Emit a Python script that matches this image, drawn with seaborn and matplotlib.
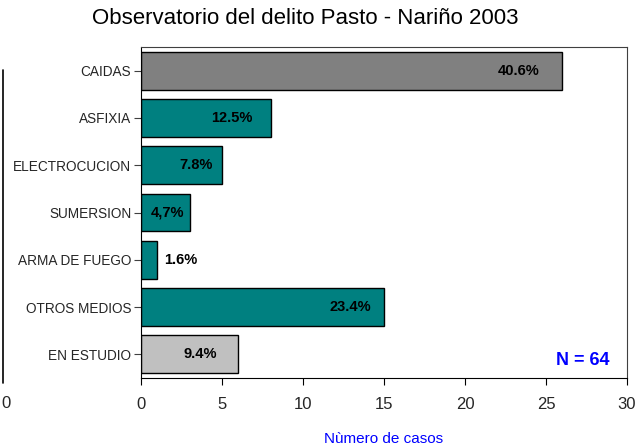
import matplotlib
matplotlib.use("Agg")
import matplotlib.pyplot as plt
import seaborn as sns
import pandas as pd
from matplotlib.lines import Line2D

categories = ["CAIDAS", "ASFIXIA", "ELECTROCUCION", "SUMERSION", "ARMA DE FUEGO", "OTROS MEDIOS", "EN ESTUDIO"]
casos = [26, 8, 5, 3, 1, 15, 6]
pct_labels = ["40.6%", "12.5%", "7.8%", "4,7%", "1.6%", "23.4%", "9.4%"]
total_label = "N = 64"
x_ticks = [0, 5, 10, 15, 20, 25, 30]

bar_colors = ["#808080", "#008080", "#008080", "#008080", "#008080", "#008080", "#C0C0C0"]

sns.set_theme(style="white")
plt.rcParams["font.family"] = ["Liberation Sans", "DejaVu Sans"]

df = pd.DataFrame({"cat": categories, "casos": casos})

fig = plt.figure(figsize=(6.37, 4.45), dpi=100)
ax = fig.add_axes([141/637, 1 - 378/445, (627-141)/637, (378-47)/445])

sns.barplot(data=df, y="cat", x="casos", hue="cat", palette=bar_colors, legend=False,
            orient="h", width=0.8, edgecolor="black", linewidth=1, ax=ax, saturation=1)

ax.set_xlim(0, 30)
ax.set_ylim(6.5, -0.5)
ax.set_xticks(x_ticks)
ax.set_xticklabels([str(t) for t in x_ticks], fontsize=12)
ax.tick_params(axis="y", labelsize=9.8, length=5, width=0.8, color="#404040", direction="out", left=True, pad=2)
ax.tick_params(axis="x", length=5, width=0.8, color="black", direction="out", bottom=True, pad=9)
ax.set_ylabel("")
ax.set_xlabel("Nùmero de casos", color="#0000FF", fontsize=11, labelpad=14)
for s in ["top", "right", "bottom", "left"]:
    ax.spines[s].set_visible(True)
    ax.spines[s].set_color("black")
    ax.spines[s].set_linewidth(0.8)
ax.spines["top"].set_color("#404040")
ax.spines["right"].set_color("#404040")

# value labels (offsets in points from bar end)
label_dx = [-16, -13, -7, -4, 5, -9, -15]
for i, (v, lab) in enumerate(zip(casos, pct_labels)):
    ha = "left" if label_dx[i] > 0 else "right"
    ax.annotate(lab, xy=(v, i), xytext=(label_dx[i], 0), textcoords="offset points",
                ha=ha, va="center", fontsize=10.5, fontweight="bold", color="black")

ax.text(28.9, 6.12, total_label, ha="right", va="center", fontsize=13, fontweight="bold", color="#0000FF")

fig.text(305/637, 1 - 18/445, "Observatorio del delito Pasto - Nariño 2003", ha="center", va="center",
         fontsize=16, color="black")

# remnant axis at far left
fig.add_artist(Line2D([3/637, 3/637], [1 - 383/445, 1 - 70/445], color="black", lw=1.2))
fig.text(1/637, 1 - 404/445, "0", ha="left", va="center", fontsize=12)

fig.savefig("out.png", dpi=100)
